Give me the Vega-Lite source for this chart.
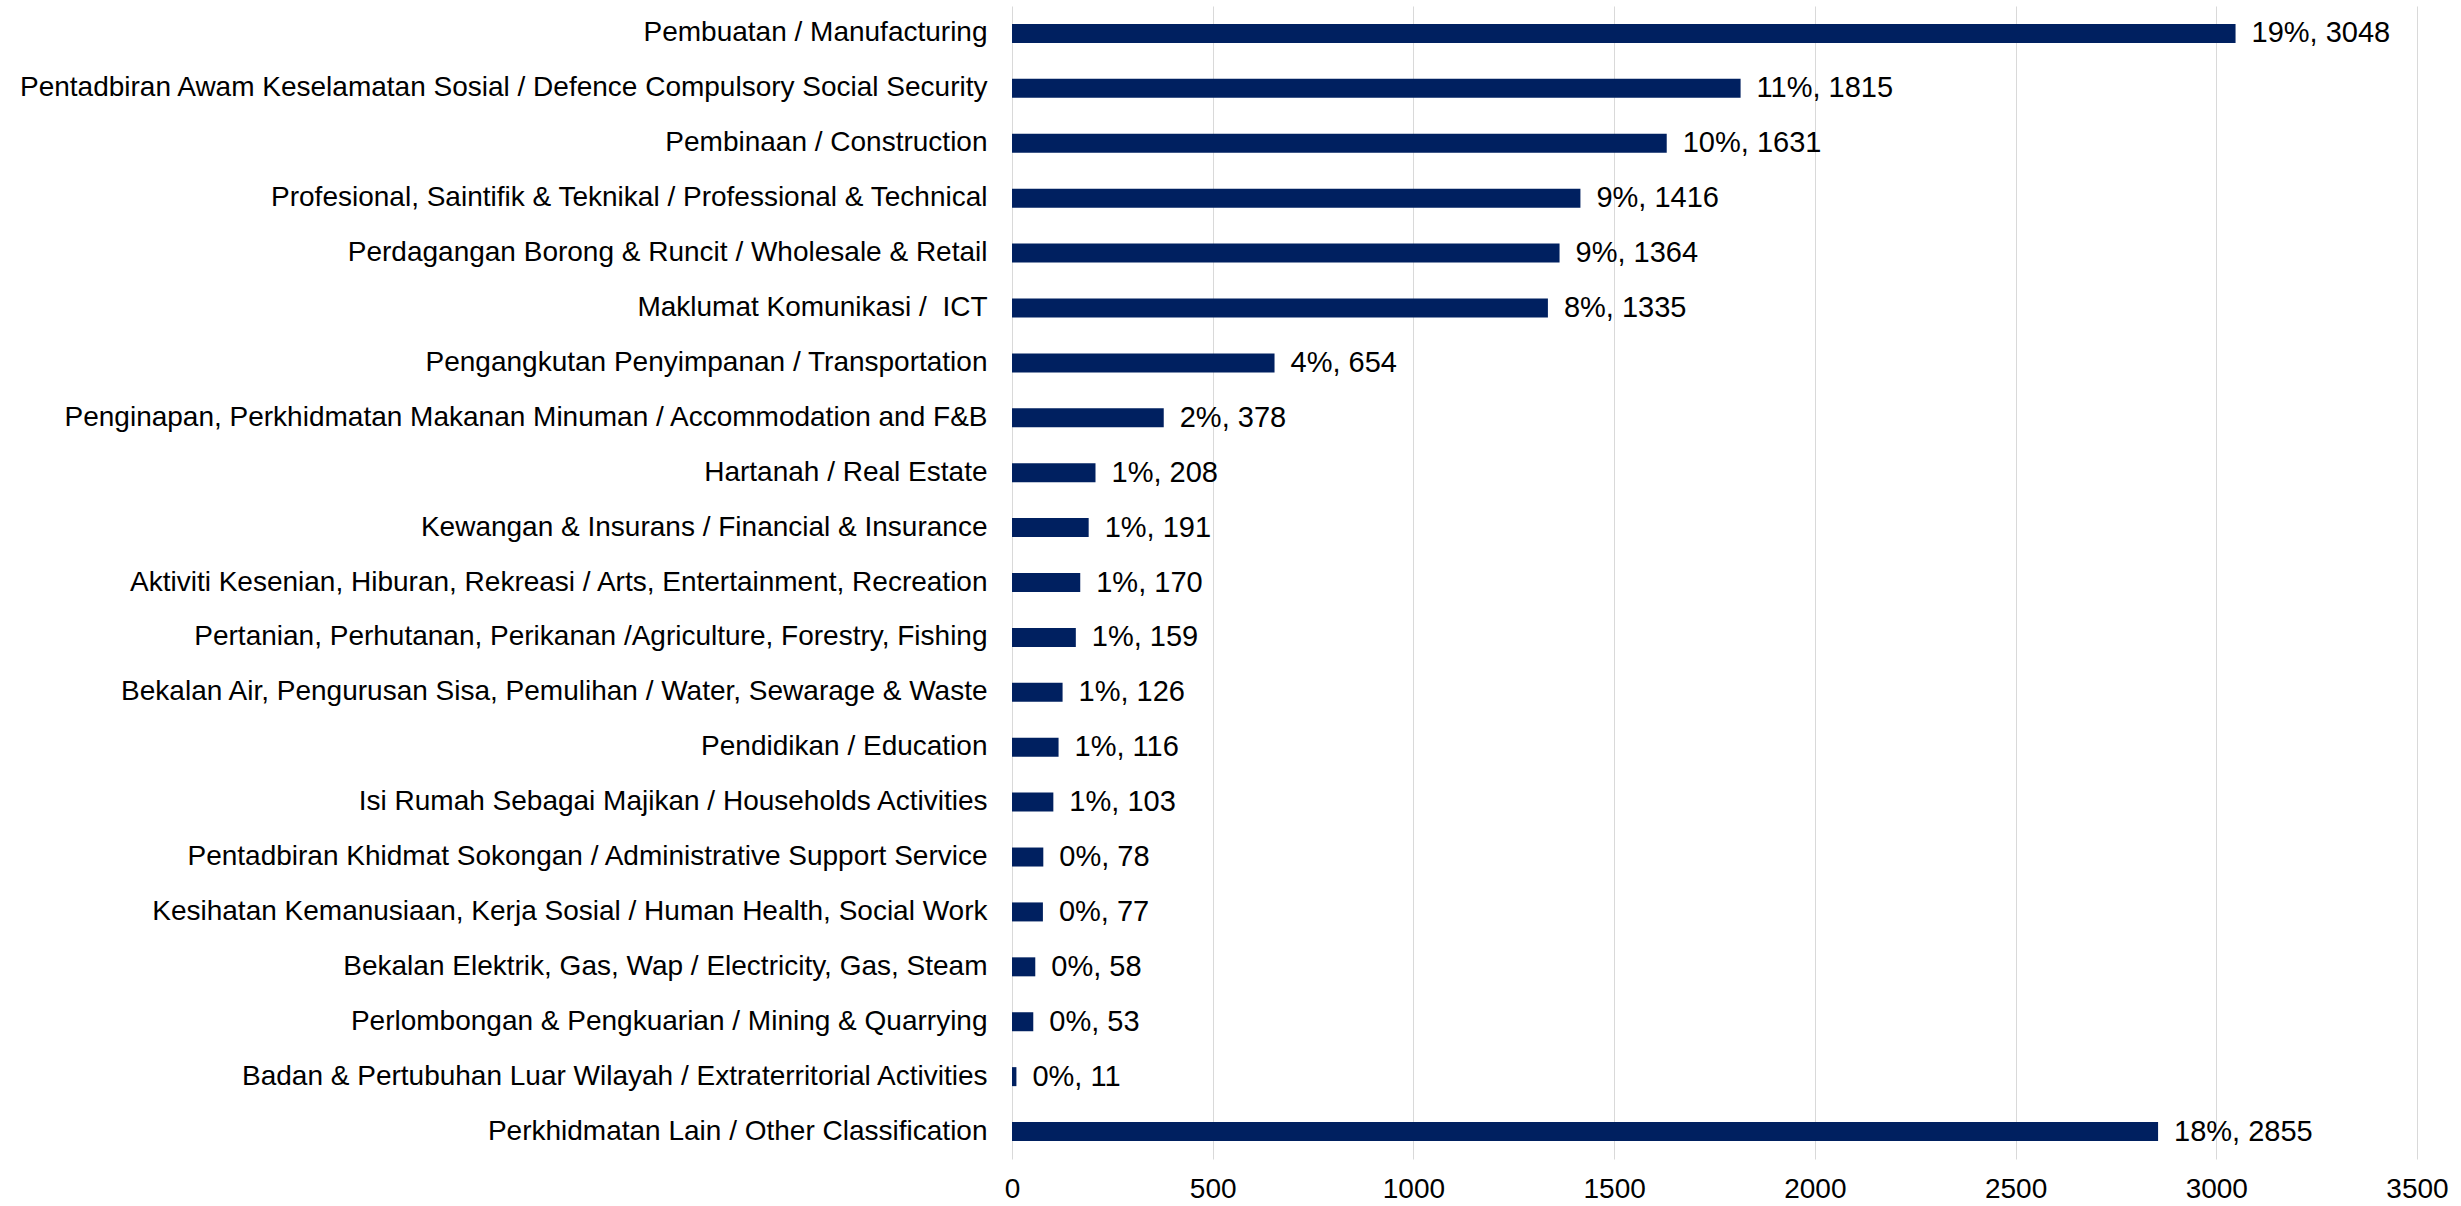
{
  "$schema": "https://vega.github.io/schema/vega-lite/v6.json",
  "autosize": "none",
  "padding": {"left": 1012, "top": 6, "right": 44, "bottom": 47},
  "width": 1405,
  "height": 1153,
  "background": "white",
  "config": {
    "view": {"stroke": null},
    "font": "Liberation Sans",
    "axis": {"labelFont": "Liberation Sans", "labelFontSize": 28, "labelColor": "#000000"}
  },
  "data": {
    "values": [
      {"sector": "Pembuatan / Manufacturing", "value": 3048, "label": "19%, 3048"},
      {"sector": "Pentadbiran Awam Keselamatan Sosial / Defence Compulsory Social Security", "value": 1815, "label": "11%, 1815"},
      {"sector": "Pembinaan / Construction", "value": 1631, "label": "10%, 1631"},
      {"sector": "Profesional, Saintifik & Teknikal / Professional & Technical", "value": 1416, "label": "9%, 1416"},
      {"sector": "Perdagangan Borong & Runcit / Wholesale & Retail", "value": 1364, "label": "9%, 1364"},
      {"sector": "Maklumat Komunikasi /\u00a0 ICT", "value": 1335, "label": "8%, 1335"},
      {"sector": "Pengangkutan Penyimpanan / Transportation", "value": 654, "label": "4%, 654"},
      {"sector": "Penginapan, Perkhidmatan Makanan Minuman / Accommodation and F&B", "value": 378, "label": "2%, 378"},
      {"sector": "Hartanah / Real Estate", "value": 208, "label": "1%, 208"},
      {"sector": "Kewangan & Insurans / Financial & Insurance", "value": 191, "label": "1%, 191"},
      {"sector": "Aktiviti Kesenian, Hiburan, Rekreasi / Arts, Entertainment, Recreation", "value": 170, "label": "1%, 170"},
      {"sector": "Pertanian, Perhutanan, Perikanan /Agriculture, Forestry, Fishing", "value": 159, "label": "1%, 159"},
      {"sector": "Bekalan Air, Pengurusan Sisa, Pemulihan / Water, Sewarage & Waste", "value": 126, "label": "1%, 126"},
      {"sector": "Pendidikan / Education", "value": 116, "label": "1%, 116"},
      {"sector": "Isi Rumah Sebagai Majikan / Households Activities", "value": 103, "label": "1%, 103"},
      {"sector": "Pentadbiran Khidmat Sokongan / Administrative Support Service", "value": 78, "label": "0%, 78"},
      {"sector": "Kesihatan Kemanusiaan, Kerja Sosial / Human Health, Social Work", "value": 77, "label": "0%, 77"},
      {"sector": "Bekalan Elektrik, Gas, Wap / Electricity, Gas, Steam", "value": 58, "label": "0%, 58"},
      {"sector": "Perlombongan & Pengkuarian / Mining & Quarrying", "value": 53, "label": "0%, 53"},
      {"sector": "Badan & Pertubuhan Luar Wilayah / Extraterritorial Activities", "value": 11, "label": "0%, 11"},
      {"sector": "Perkhidmatan Lain / Other Classification", "value": 2855, "label": "18%, 2855"}
    ]
  },
  "encoding": {
    "y": {
      "field": "sector", "type": "nominal", "sort": null,
      "scale": {"paddingInner": 0.654, "paddingOuter": 0.327},
      "axis": {"title": null, "domain": false, "ticks": false, "labelPadding": 25, "labelLimit": 1100}
    },
    "x": {
      "field": "value", "type": "quantitative",
      "scale": {"domain": [0, 3500], "nice": false},
      "axis": {"title": null, "domain": false, "ticks": false, "values": [0, 500, 1000, 1500, 2000, 2500, 3000, 3500],
               "format": "d", "grid": true, "gridColor": "#d9d9d9", "gridWidth": 1, "labelPadding": 16, "labelFlush": false}
    }
  },
  "layer": [
    {"mark": {"type": "bar", "color": "#002060"}},
    {"mark": {"type": "text", "align": "left", "baseline": "middle", "dx": 16, "fontSize": 29, "font": "Liberation Sans", "color": "#000000"},
     "encoding": {"text": {"field": "label"}}}
  ]
}
